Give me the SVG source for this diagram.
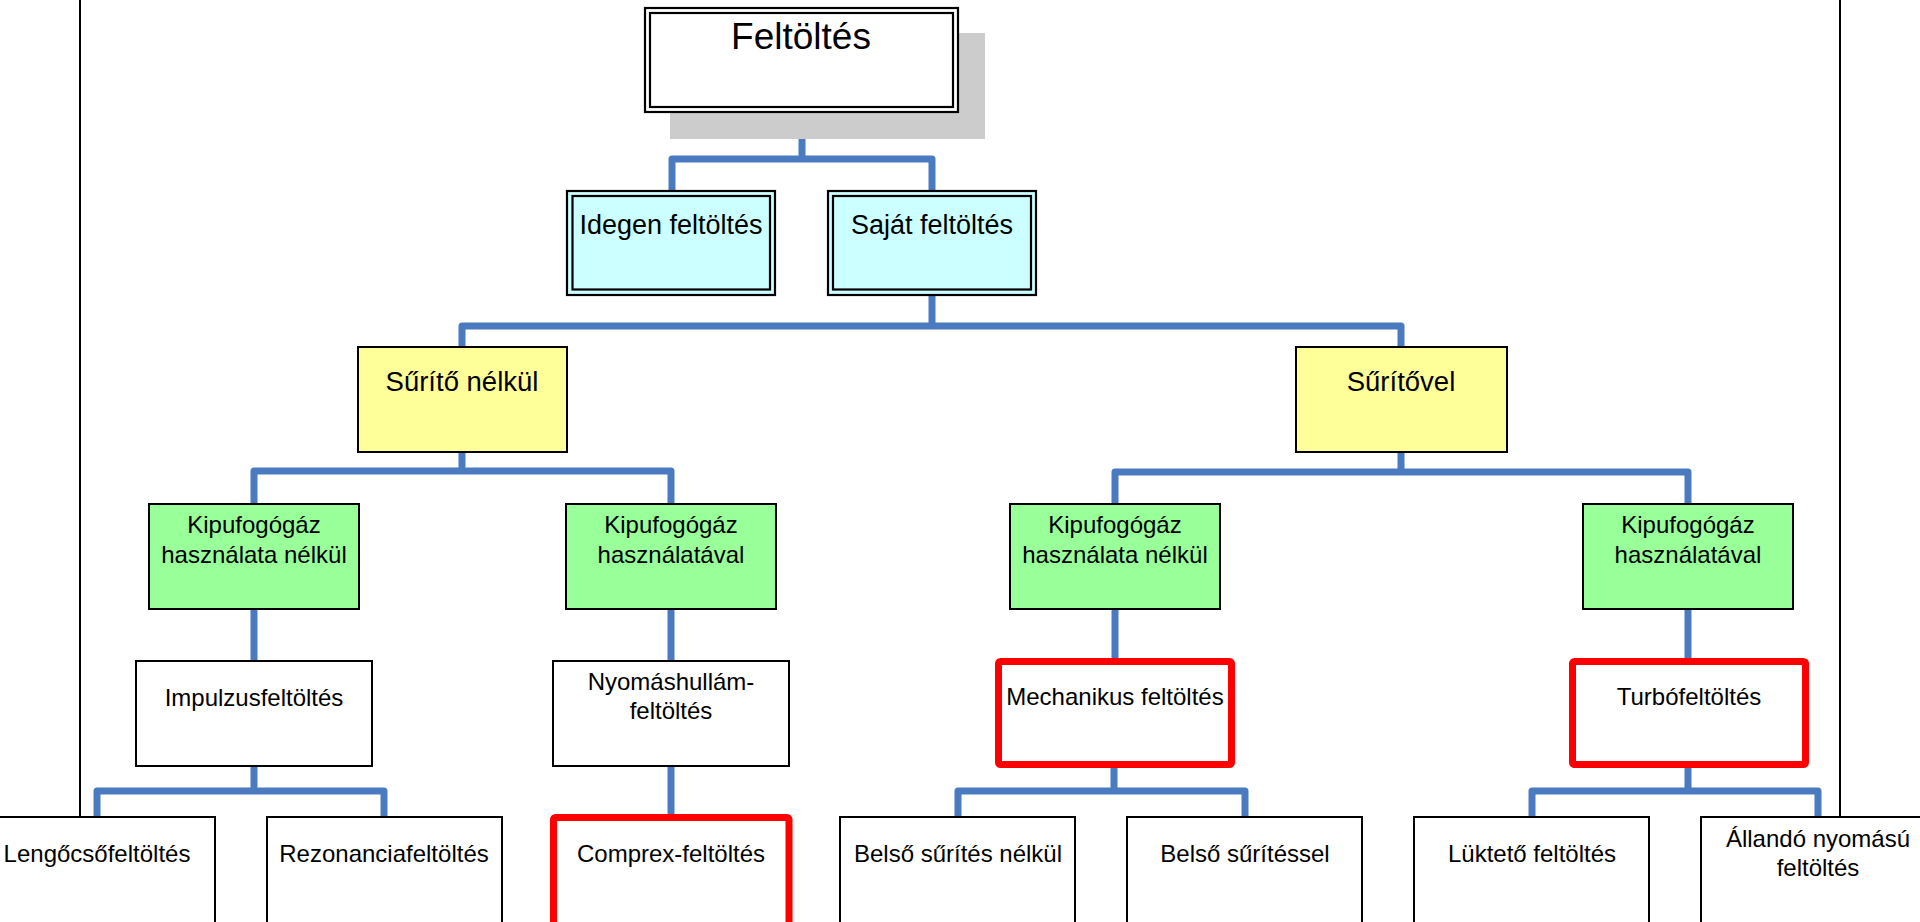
<svg xmlns="http://www.w3.org/2000/svg" width="1920" height="922" viewBox="0 0 1920 922">
  <style>
    text { font-family: "Liberation Sans", Arial, sans-serif; fill: #000; text-anchor: middle; }
    .t-root { font-size: 37px; }
    .t-l1 { font-size: 27px; }
    .t-l2 { font-size: 27.5px; }
    .t { font-size: 24px; }
    .box { fill: #fff; stroke: #000; stroke-width: 2; }
    .dbl { fill: none; stroke: #000; stroke-width: 2.2; }
    .cyan { fill: #CCFFFF; }
    .yellow { fill: #FFFF99; stroke: #000; stroke-width: 2; }
    .green { fill: #99FF99; stroke: #000; stroke-width: 2; }
    .red { fill: #fff; stroke: #FF0000; stroke-width: 7; }
    .conn { fill: none; stroke: #4A7BC1; stroke-width: 7; stroke-linejoin: round; }
    .frame { fill: none; stroke: #000; stroke-width: 2; }
  </style>

  <rect width="1920" height="922" fill="#fff"/>

  <!-- side frame lines -->
  <g id="frame">
    <path class="frame" d="M80,0 V817 M1840,0 V817"/>
  </g>

  <!-- tree connectors -->
  <g id="connectors">
    <path class="conn" d="M802,113 V159 M672,190 V159 H932 V190"/>
    <path class="conn" d="M932,296 V326 M462,347 V326 H1401 V347"/>
    <path class="conn" d="M462,452 V471 M254,504 V471 H671 V504"/>
    <path class="conn" d="M1401,452 V472 M1115,504 V472 H1688 V504"/>
    <path class="conn" d="M254,609 V661 M671,609 V661 M1115,609 V658 M1688,609 V658"/>
    <path class="conn" d="M254,766 V791 M97,817 V791 H384 V817"/>
    <path class="conn" d="M671,766 V814"/>
    <path class="conn" d="M1114,768 V791 M958,817 V791 H1245 V817"/>
    <path class="conn" d="M1688,768 V791 M1532,817 V791 H1818 V817"/>
  </g>

  <!-- root -->
  <g id="n-feltoltes">
    <rect x="670" y="33" width="315" height="106" fill="#CCCCCC"/>
    <rect x="645" y="8" width="313" height="104" fill="#fff"/>
    <rect class="dbl" x="645" y="8" width="313" height="104"/>
    <rect class="dbl" x="650" y="13" width="303" height="94"/>
    <text class="t-root" x="801" y="49">Feltöltés</text>
  </g>

  <!-- level 1 -->
  <g id="n-idegen">
    <rect class="cyan" x="567" y="191" width="208" height="104"/>
    <rect class="dbl" x="567" y="191" width="208" height="104"/>
    <rect class="dbl" x="572.5" y="196" width="197.5" height="93.5"/>
    <text class="t-l1" x="671" y="234">Idegen feltöltés</text>
  </g>
  <g id="n-sajat">
    <rect class="cyan" x="828" y="191" width="208" height="104"/>
    <rect class="dbl" x="828" y="191" width="208" height="104"/>
    <rect class="dbl" x="833" y="196" width="198" height="93.5"/>
    <text class="t-l1" x="932" y="234">Saját feltöltés</text>
  </g>

  <!-- level 2 -->
  <g id="n-surito-nelkul">
    <rect class="yellow" x="358" y="347" width="209" height="105"/>
    <text class="t-l2" x="462" y="391">Sűrítő nélkül</text>
  </g>
  <g id="n-surito-vel">
    <rect class="yellow" x="1296" y="347" width="211" height="105"/>
    <text class="t-l2" x="1401" y="391">Sűrítővel</text>
  </g>

  <!-- level 3 -->
  <g id="n-kipu-nelkul-1">
    <rect class="green" x="149" y="504" width="210" height="105"/>
    <text class="t" x="254" y="533">Kipufogógáz</text>
    <text class="t" x="254" y="563">használata nélkül</text>
  </g>
  <g id="n-kipu-val-1">
    <rect class="green" x="566" y="504" width="210" height="105"/>
    <text class="t" x="671" y="533">Kipufogógáz</text>
    <text class="t" x="671" y="563">használatával</text>
  </g>
  <g id="n-kipu-nelkul-2">
    <rect class="green" x="1010" y="504" width="210" height="105"/>
    <text class="t" x="1115" y="533">Kipufogógáz</text>
    <text class="t" x="1115" y="563">használata nélkül</text>
  </g>
  <g id="n-kipu-val-2">
    <rect class="green" x="1583" y="504" width="210" height="105"/>
    <text class="t" x="1688" y="533">Kipufogógáz</text>
    <text class="t" x="1688" y="563">használatával</text>
  </g>

  <!-- level 4 -->
  <g id="n-impulzus">
    <rect class="box" x="136" y="661" width="236" height="105"/>
    <text class="t" x="254" y="706">Impulzusfeltöltés</text>
  </g>
  <g id="n-nyomashullam">
    <rect class="box" x="553" y="661" width="236" height="105"/>
    <text class="t" x="671" y="690">Nyomáshullám-</text>
    <text class="t" x="671" y="719">feltöltés</text>
  </g>
  <g id="n-mechanikus">
    <rect class="red" x="998.5" y="661.5" width="233" height="103" rx="2"/>
    <text class="t" x="1115" y="705">Mechanikus feltöltés</text>
  </g>
  <g id="n-turbo">
    <rect class="red" x="1572.5" y="661.5" width="233" height="103" rx="2"/>
    <text class="t" x="1689" y="705">Turbófeltöltés</text>
  </g>

  <!-- level 5 -->
  <g id="n-lengocso">
    <rect class="box" x="-20" y="817" width="235" height="120"/>
    <text class="t" x="97" y="862">Lengőcsőfeltöltés</text>
  </g>
  <g id="n-rezonancia">
    <rect class="box" x="267" y="817" width="235" height="120"/>
    <text class="t" x="384" y="862">Rezonanciafeltöltés</text>
  </g>
  <g id="n-comprex">
    <rect class="red" x="553.5" y="817.5" width="235.5" height="120" rx="2"/>
    <text class="t" x="671" y="862">Comprex-feltöltés</text>
  </g>
  <g id="n-belso-nelkul">
    <rect class="box" x="840" y="817" width="235" height="120"/>
    <text class="t" x="958" y="862">Belső sűrítés nélkül</text>
  </g>
  <g id="n-belso-vel">
    <rect class="box" x="1127" y="817" width="235" height="120"/>
    <text class="t" x="1245" y="862">Belső sűrítéssel</text>
  </g>
  <g id="n-lukteto">
    <rect class="box" x="1414" y="817" width="235" height="120"/>
    <text class="t" x="1532" y="862">Lüktető feltöltés</text>
  </g>
  <g id="n-allando">
    <rect class="box" x="1701" y="817" width="235" height="120"/>
    <text class="t" x="1818" y="847">Állandó nyomású</text>
    <text class="t" x="1818" y="876">feltöltés</text>
  </g>
</svg>
